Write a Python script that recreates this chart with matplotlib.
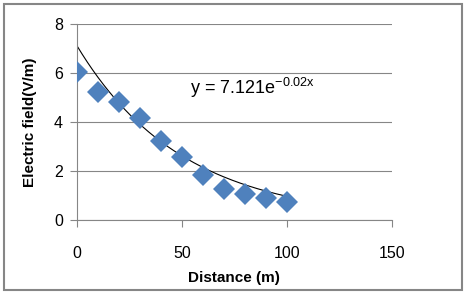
import numpy as np
import matplotlib
matplotlib.use("Agg")
import matplotlib.pyplot as plt
from matplotlib.patches import Rectangle

distance = [0, 10, 20, 30, 40, 50, 60, 70, 80, 90, 100]
field = [6.05, 5.22, 4.8, 4.15, 3.22, 2.56, 1.84, 1.27, 1.06, 0.88, 0.74]
# trendline coefficients as shown on the chart: y = a * exp(b * x)
fit_a = 7.121
fit_b = -0.02

plt.rcParams['font.family'] = ['Liberation Sans', 'DejaVu Sans']
plt.rcParams['mathtext.default'] = 'regular'

fig = plt.figure(figsize=(4.66, 2.94), dpi=100)
ax = fig.add_axes([0.165, 0.252, 0.676, 0.666])

fig.patches.append(Rectangle((0.008, 0.012), 0.984, 0.976, transform=fig.transFigure,
                             fill=False, edgecolor='#868686', linewidth=1.5))

xs = np.linspace(min(distance), max(distance), 200)
ax.plot(xs, fit_a * np.exp(fit_b * xs), color='black', linewidth=0.8, zorder=2)
ax.plot(distance, field, linestyle='none', marker='D', markersize=11.5,
        color='#4F81BD', markeredgewidth=0, zorder=3)

ax.set_xlim(0, 150)
ax.set_ylim(0, 8)
ax.set_xticks([0, 50, 100, 150])
ax.set_yticks([0, 2, 4, 6, 8])
ax.yaxis.grid(True, color='#868686', linewidth=0.8)
ax.set_axisbelow(True)
for side in ['top', 'right']:
    ax.spines[side].set_visible(False)
for side in ['left', 'bottom']:
    ax.spines[side].set_color('#868686')
ax.tick_params(axis='both', colors='#868686', labelcolor='black', labelsize=11.5, length=5)
ax.tick_params(axis='x', pad=14)
ax.tick_params(axis='y', pad=5)

ax.set_xlabel('Distance (m)', fontsize=11, fontweight='bold', labelpad=7)
ax.set_ylabel('Electric field(V/m)', fontsize=11, fontweight='bold', labelpad=12)

ax.text(54, 5.4, r'y = 7.121e$^{-0.02x}$', fontsize=13, va='center', ha='left')

fig.savefig('out.png', dpi=100)
